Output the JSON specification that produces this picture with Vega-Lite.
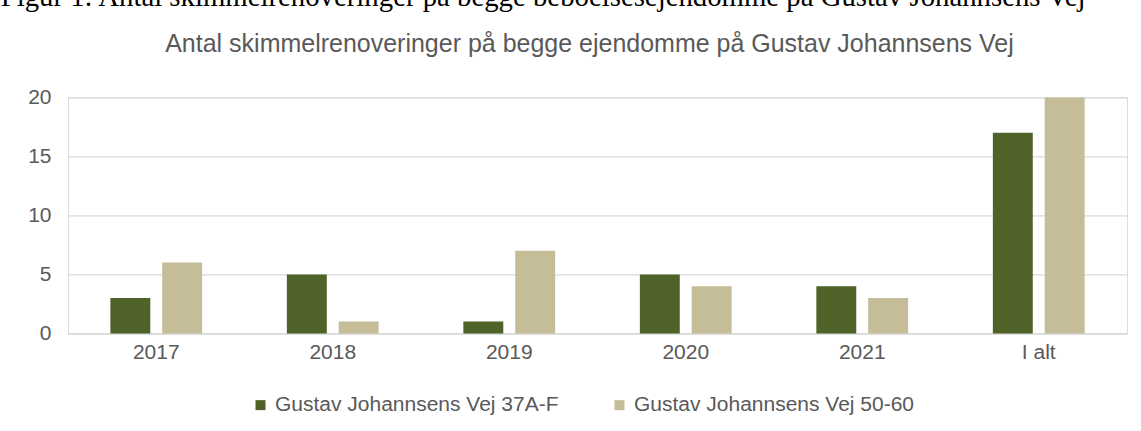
{
  "$schema": "https://vega.github.io/schema/vega-lite/v6.json",
  "autosize": {"type": "fit-x", "contains": "padding"},
  "padding": {"left": 0, "top": -103.6, "right": 14, "bottom": 60},
  "width": 1141,
  "height": 236,
  "background": "white",
  "title": {
    "text": "Figur 1: Antal skimmelrenoveringer på begge beboelsesejendomme på Gustav Johannsens Vej",
    "font": "Liberation Serif",
    "fontSize": 28.8,
    "fontWeight": "normal",
    "color": "black",
    "anchor": "start",
    "frame": "bounds",
    "offset": -115,
    "dx": -27
  },
  "data": {
    "values": [
      {"Aar": "2017", "Serie": "Gustav Johannsens Vej 37A-F", "Antal": 3},
      {"Aar": "2017", "Serie": "Gustav Johannsens Vej 50-60", "Antal": 6},
      {"Aar": "2018", "Serie": "Gustav Johannsens Vej 37A-F", "Antal": 5},
      {"Aar": "2018", "Serie": "Gustav Johannsens Vej 50-60", "Antal": 1},
      {"Aar": "2019", "Serie": "Gustav Johannsens Vej 37A-F", "Antal": 1},
      {"Aar": "2019", "Serie": "Gustav Johannsens Vej 50-60", "Antal": 7},
      {"Aar": "2020", "Serie": "Gustav Johannsens Vej 37A-F", "Antal": 5},
      {"Aar": "2020", "Serie": "Gustav Johannsens Vej 50-60", "Antal": 4},
      {"Aar": "2021", "Serie": "Gustav Johannsens Vej 37A-F", "Antal": 4},
      {"Aar": "2021", "Serie": "Gustav Johannsens Vej 50-60", "Antal": 3},
      {"Aar": "I alt", "Serie": "Gustav Johannsens Vej 37A-F", "Antal": 17},
      {"Aar": "I alt", "Serie": "Gustav Johannsens Vej 50-60", "Antal": 20}
    ]
  },
  "resolve": {"axis": {"x": "independent"}},
  "layer": [
    {
      "mark": {"type": "bar"},
      "encoding": {
        "x": {
          "field": "Aar", "type": "nominal",
          "sort": ["2017", "2018", "2019", "2020", "2021", "I alt"],
          "scale": {"paddingInner": 0.48, "paddingOuter": 0.24},
          "axis": {
            "orient": "bottom", "title": null, "labelAngle": 0,
            "labelFont": "Liberation Sans", "labelFontSize": 21, "labelColor": "#595959",
            "labelPadding": 8, "ticks": false, "domain": true, "domainColor": "#d9d9d9", "domainWidth": 1.3
          }
        },
        "xOffset": {
          "field": "Serie", "type": "nominal",
          "scale": {"paddingInner": 0.23, "paddingOuter": 0}
        },
        "y": {
          "field": "Antal", "type": "quantitative",
          "scale": {"domain": [0, 20], "nice": false},
          "axis": {
            "title": null, "values": [0, 5, 10, 15, 20], "domain": false, "ticks": false,
            "labelFont": "Liberation Sans", "labelFontSize": 21, "labelColor": "#595959",
            "labelPadding": 17, "gridColor": "#d9d9d9", "gridWidth": 1.3
          }
        },
        "color": {
          "field": "Serie", "type": "nominal",
          "scale": {"domain": ["Gustav Johannsens Vej 37A-F", "Gustav Johannsens Vej 50-60"], "range": ["#4f6228", "#c4bd97"]},
          "legend": {
            "orient": "none", "legendX": 182, "legendY": 297, "title": null, "direction": "horizontal",
            "labelFont": "Liberation Sans", "labelFontSize": 21, "labelColor": "#595959", "labelLimit": 500,
            "symbolType": "square", "symbolSize": 100, "symbolStrokeWidth": 0,
            "labelOffset": 4, "columnPadding": 50
          }
        }
      }
    },
    {
      "mark": {"type": "bar", "opacity": 0},
      "encoding": {
        "x": {
          "field": "Aar", "type": "nominal",
          "sort": ["2017", "2018", "2019", "2020", "2021", "I alt"],
          "axis": {
            "orient": "top", "labels": false, "ticks": false, "domain": false, "grid": false,
            "title": "Antal skimmelrenoveringer på begge ejendomme på Gustav Johannsens Vej",
            "titleFont": "Liberation Sans", "titleFontSize": 25, "titleFontWeight": "normal",
            "titleColor": "#595959", "titlePadding": 41, "titleX": 521
          }
        },
        "y": {"field": "Antal", "type": "quantitative"}
      }
    }
  ]
}
